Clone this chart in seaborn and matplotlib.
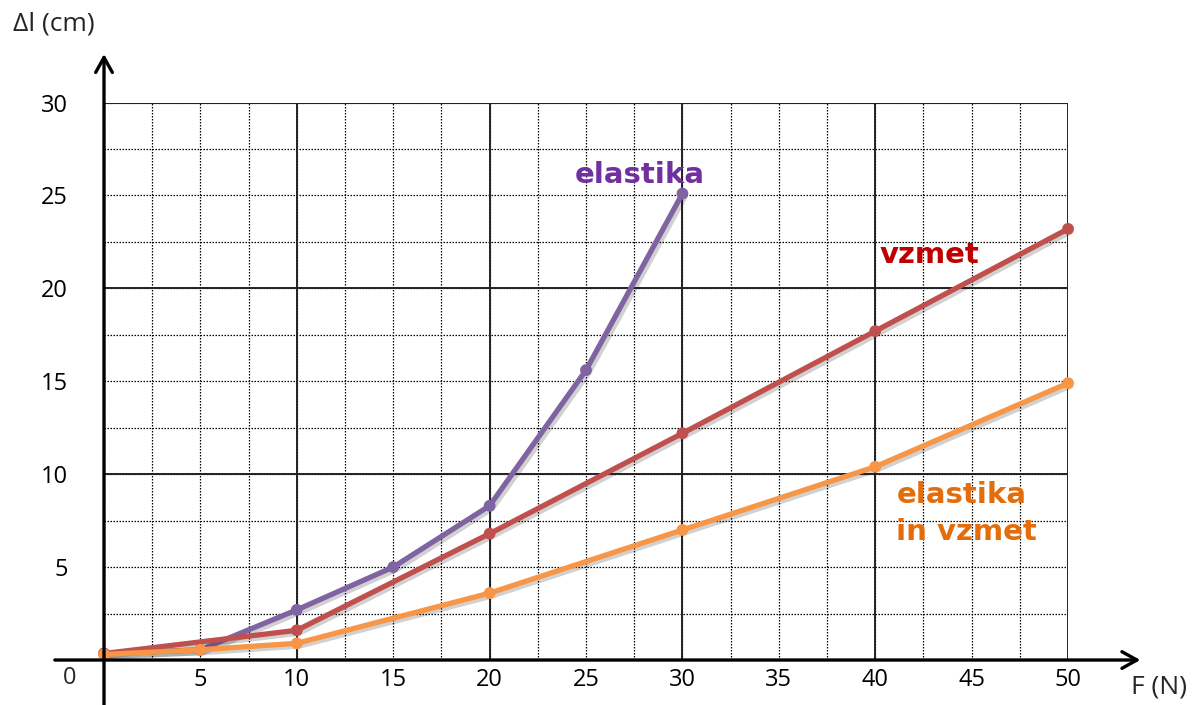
import matplotlib
matplotlib.use("Agg")
import matplotlib.pyplot as plt
import matplotlib.patheffects as pe
from matplotlib.ticker import MultipleLocator
import numpy as np
import pandas as pd
import seaborn as sns

# data
force_elastika = [0, 5, 10, 15, 20, 25, 30]
dl_elastika = [0.35, 0.55, 2.7, 5.0, 8.3, 15.6, 25.1]

force_vzmet = [0, 10, 20, 30, 40, 50]
dl_vzmet = [0.35, 1.6, 6.8, 12.2, 17.7, 23.2]

force_both = [0, 5, 10, 20, 30, 40, 50]
dl_both = [0.3, 0.55, 0.9, 3.6, 7.0, 10.4, 14.9]

x_ticks = [5, 10, 15, 20, 25, 30, 35, 40, 45, 50]
y_ticks = [5, 10, 15, 20, 25, 30]

series = [
    ("elastika", force_elastika, dl_elastika, "#8064A2"),
    ("vzmet", force_vzmet, dl_vzmet, "#C0504D"),
    ("elastika in vzmet", force_both, dl_both, "#F79646"),
]

sns.set_theme(style="white")
plt.rcParams["font.family"] = ["Open Sans", "DejaVu Sans"]

fig = plt.figure(figsize=(12.01, 7.05), dpi=100)
ax = fig.add_axes([0.0866, 0.0638, 0.8027, 0.7908])

ax.set_xlim(0, 50)
ax.set_ylim(0, 30)

# dotted grid every 2.5, solid every 10
ax.xaxis.set_major_locator(MultipleLocator(5))
ax.yaxis.set_major_locator(MultipleLocator(5))
ax.xaxis.set_minor_locator(MultipleLocator(2.5))
ax.yaxis.set_minor_locator(MultipleLocator(2.5))
ax.grid(which="both", color="black", lw=0.9, ls=(0, (1.2, 1.2)), zorder=0)
for v in range(10, 51, 10):
    ax.axvline(v, color="#222222", lw=1.4, zorder=1)
for h in range(10, 31, 10):
    ax.axhline(h, color="#222222", lw=1.4, zorder=1)

for sp in ax.spines.values():
    sp.set_visible(False)

shadow = [pe.SimpleLineShadow(offset=(2, -2), alpha=0.2), pe.Normal()]
for name, xs, ys, col in series:
    df = pd.DataFrame({"F": xs, "dl": ys})
    sns.lineplot(data=df, x="F", y="dl", ax=ax, color=col, lw=3.8,
                 marker="o", markersize=8.5, markeredgewidth=0,
                 zorder=3, clip_on=False, path_effects=shadow)

ax.set_xlabel("")
ax.set_ylabel("")
ax.set_xticks(x_ticks)
ax.set_yticks(y_ticks)
ax.set_xticklabels([str(t) for t in x_ticks])
ax.set_yticklabels([str(t) for t in y_ticks])
ax.tick_params(axis="x", length=0, pad=6, labelsize=17, colors="black")
ax.tick_params(axis="y", length=0, pad=26, labelsize=17, colors="black")
ax.annotate("0", xy=(0, 0), xytext=(-34, -18), textcoords="offset pixels",
            ha="center", va="center", fontsize=17)

# axis arrows
arrow = dict(arrowstyle="->, head_length=0.9, head_width=0.5", lw=2.4,
             color="black", shrinkA=0, shrinkB=0)
ax.annotate("", xy=(1.075, 0), xytext=(-0.051, 0), xycoords="axes fraction",
            arrowprops=arrow, annotation_clip=False)
ax.annotate("", xy=(0, 1.087), xytext=(0, -0.085), xycoords="axes fraction",
            arrowprops=arrow, annotation_clip=False)

fig.text(54 / 1201, 1 - 24 / 705, "Δl (cm)", ha="center", va="center", fontsize=19)
fig.text(1159 / 1201, 1 - 687 / 705, "F (N)", ha="center", va="center", fontsize=19)

# series labels
lab_font = dict(family="DejaVu Sans", fontweight="bold", fontsize=21)
ax.text(27.8, 26.1, "elastika", color="#7030A0", ha="center", va="center", **lab_font)
ax.text(40.2, 21.8, "vzmet", color="#C00000", ha="left", va="center", **lab_font)
ax.text(41.1, 7.9, "elastika\nin vzmet", color="#E46C0A", ha="left", va="center",
        linespacing=1.4, **lab_font)

fig.savefig("out.png", dpi=100)
